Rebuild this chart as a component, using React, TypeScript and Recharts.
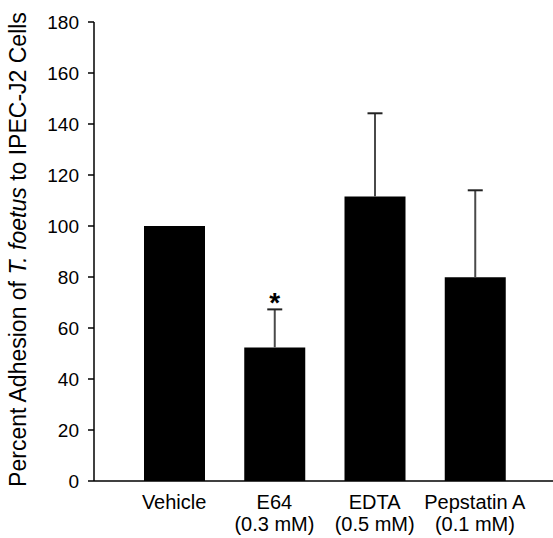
import { BarChart, Bar, XAxis, YAxis, LabelList, Label } from 'recharts';

const categories = ['Vehicle', 'E64', 'EDTA', 'Pepstatin A'];
const doses = ['', '(0.3 mM)', '(0.5 mM)', '(0.1 mM)'];
const adhesion = [100, 52.4, 111.6, 79.9];
const errorUp = [0, 14.9, 32.6, 34.1];
const marks = ['', '*', '', ''];
const yTicks = [0, 20, 40, 60, 80, 100, 120, 140, 160, 180];

const data = categories.map((name, i) => ({
  name,
  dose: doses[i],
  value: adhesion[i],
  err: errorUp[i],
  mark: marks[i],
}));

const font = 'Arial, "Liberation Sans", Helvetica, sans-serif';

function CategoryTick(props: any) {
  const { x, y, payload, index } = props;
  return (
    <text x={x} y={y} textAnchor="middle" fontFamily={font} fontSize={20} fill="#000">
      <tspan x={x} dy={26}>{payload.value}</tspan>
      {doses[index] ? <tspan x={x} dy={22}>{doses[index]}</tspan> : null}
    </text>
  );
}

// upper whisker only, scaled from the bar's own pixel height
function Whisker(props: any) {
  const { x, y, width, height, value, index } = props;
  if (!value) return null;
  const ppu = height / adhesion[index];
  const top = y - value * ppu;
  const cx = x + width / 2;
  return (
    <g>
      <line x1={cx} y1={y} x2={cx} y2={top} stroke="#4a4a4a" strokeWidth={2} />
      <line x1={cx - 7.5} y1={top} x2={cx + 7.5} y2={top} stroke="#222" strokeWidth={2} />
    </g>
  );
}

function StarMark(props: any) {
  const { x, y, width, height, value, index } = props;
  if (!value) return null;
  const ppu = height / adhesion[index];
  const top = y - errorUp[index] * ppu;
  return (
    <text x={x + width / 2} y={top + 3} textAnchor="middle" fontFamily={font} fontSize={28} fontWeight="bold" fill="#000">
      {value}
    </text>
  );
}

function YLabel(props: any) {
  const { viewBox } = props;
  const cx = 18;
  const cy = viewBox.y + viewBox.height / 2 - 2;
  return (
    <text
      x={cx}
      y={cy}
      textAnchor="middle"
      dominantBaseline="central"
      transform={`rotate(-90, ${cx}, ${cy})`}
      fontFamily={font}
      fontSize={23}
      fill="#000"
    >
      Percent Adhesion of <tspan fontStyle="italic">T. foetus</tspan> to IPEC-J2 Cells
    </text>
  );
}

export default function App() {
  return (
    <div style={{ position: 'absolute', left: 0, top: 0, background: '#fff' }}>
      <BarChart width={553} height={538} data={data} margin={{ top: 22, right: 0, bottom: 0, left: 0 }} barSize={61}>
        <XAxis
          dataKey="name"
          height={57}
          padding={{ left: 30, right: 28 }}
          axisLine={{ stroke: '#000', strokeWidth: 1.5 }}
          tickLine={false}
          tickSize={0}
          tick={<CategoryTick />}
          interval={0}
        />
        <YAxis
          width={94}
          domain={[0, 180]}
          ticks={yTicks}
          interval={0}
          axisLine={{ stroke: '#000', strokeWidth: 1.5 }}
          tickLine={{ stroke: '#000', strokeWidth: 1.5 }}
          tickSize={6}
          tickMargin={9}
          tick={{ fill: '#000', fontSize: 19, fontFamily: font }}
        >
          <Label content={<YLabel />} />
        </YAxis>
        <Bar dataKey="value" fill="#000" isAnimationActive={false}>
          <LabelList dataKey="err" content={<Whisker />} />
          <LabelList dataKey="mark" content={<StarMark />} />
        </Bar>
      </BarChart>
    </div>
  );
}
